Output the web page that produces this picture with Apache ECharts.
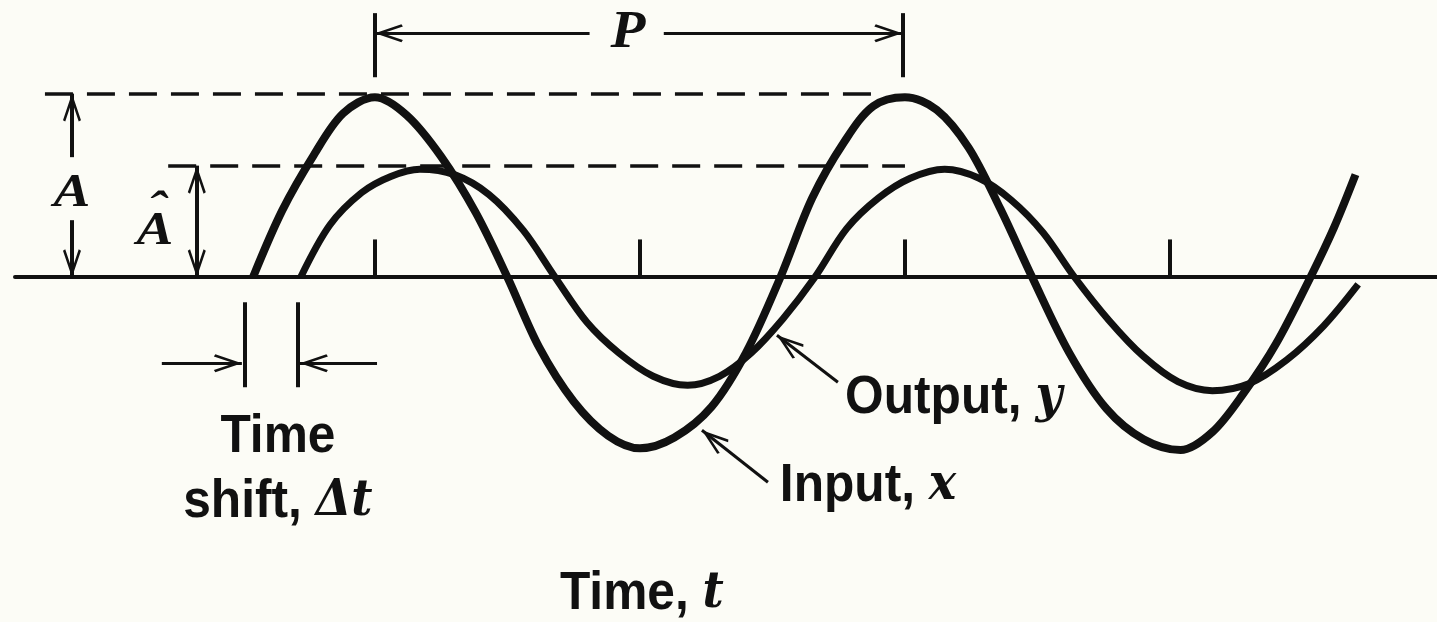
<!DOCTYPE html>
<html>
<head>
<meta charset="utf-8">
<title>Input and output sine waves</title>
<script src="https://cdn.jsdelivr.net/npm/echarts@6/dist/echarts.min.js"></script>
<style>
html, body { margin: 0; padding: 0; background: #fcfcf6; }
#chartLineBox { width: 1437px; height: 622px; }
</style>
</head>
<body>
<div id="chartLineBox"></div>
<script>
// values: time t (tick marks at 1..4), amplitude with A = 1
var inputTime = [0.54, 0.65, 0.77, 0.88, 1.0, 1.12, 1.25, 1.38, 1.5, 1.62, 1.75, 1.88, 2.0, 2.13, 2.27, 2.4, 2.53, 2.65, 2.77, 2.88, 3.0, 3.12, 3.24, 3.36, 3.48, 3.62, 3.76, 3.9, 4.04, 4.16, 4.28, 4.4, 4.53, 4.62, 4.7];
var inputValue = [0, 0.37, 0.68, 0.91, 1.0, 0.9, 0.67, 0.36, 0, -0.39, -0.69, -0.88, -0.95, -0.89, -0.72, -0.42, 0, 0.44, 0.75, 0.95, 1.0, 0.93, 0.72, 0.38, 0, -0.42, -0.73, -0.9, -0.96, -0.86, -0.64, -0.37, 0, 0.28, 0.57];
var outputTime = [0.72, 0.83, 0.95, 1.06, 1.17, 1.3, 1.43, 1.56, 1.68, 1.8, 1.92, 2.05, 2.18, 2.3, 2.42, 2.54, 2.66, 2.78, 2.9, 3.02, 3.15, 3.28, 3.4, 3.52, 3.64, 3.77, 3.9, 4.03, 4.16, 4.3, 4.44, 4.58, 4.71];
var outputValue = [0, 0.29, 0.47, 0.56, 0.6, 0.57, 0.46, 0.26, 0, -0.25, -0.42, -0.55, -0.6, -0.55, -0.42, -0.23, 0, 0.27, 0.44, 0.55, 0.6, 0.55, 0.43, 0.25, 0, -0.24, -0.44, -0.58, -0.63, -0.59, -0.46, -0.27, -0.04];
var tickTimes = [1, 2, 3, 4];
var peakLevels = [1.02, 0.62];   // A, A-hat
var periodEnds = [1.0, 2.99];    // P
var shiftEnds = [0.51, 0.71];    // time shift

var INK = "#111";
var sansFont = '"Liberation Sans", Arial, sans-serif';
var serifFont = '"Liberation Serif", "Times New Roman", serif';
var varFont = '"DejaVu Serif", "Liberation Serif", serif';
var CHEVRON = "path://M10,0L20,27L17.5,28.5L10,8L2.5,28.5L0,27Z";

function pairs(xs, ys) {
  var out = [];
  for (var i = 0; i < xs.length; i++) {
    out.push([xs[i], ys[i]]);
  }
  return out;
}

// plain segment
function bar(a, b, width) {
  return [
    { coord: a, symbol: "none" },
    { coord: b, symbol: "none", lineStyle: { width: width || 4 } },
  ];
}
// segment with an arrow head at b (and at a too if both)
function arrow(a, b, both, width) {
  var head = { symbol: CHEVRON, symbolSize: [18, 28], symbolOffset: [0, 14] };
  var start = both ? Object.assign({ coord: a }, head) : { coord: a, symbol: "none" };
  var end = Object.assign({ coord: b, lineStyle: { width: width || 3.5 } }, head);
  return [start, end];
}
function dashed(a, b) {
  return [
    { coord: a, symbol: "none" },
    { coord: b, symbol: "none", lineStyle: { width: 3.5, type: [28, 14] } },
  ];
}

var A = peakLevels[0];
var Ahat = peakLevels[1];
var marks = [];
marks.push(dashed([-0.245, A], [2.9, A]));
marks.push(dashed([0.22, Ahat], [3.0, Ahat]));
// A dimension (split round its label)
marks.push(arrow([-0.143, 0.667], [-0.143, A], false, 4));
marks.push(arrow([-0.143, 0.317], [-0.143, 0], false, 4));
// A-hat dimension
marks.push(arrow([0.328, 0], [0.328, Ahat], true, 4));
// period P
marks.push(bar([periodEnds[0], 1.111], [periodEnds[0], 1.467]));
marks.push(bar([periodEnds[1], 1.111], [periodEnds[1], 1.467]));
marks.push(arrow([1.81, 1.356], [periodEnds[0], 1.356], false, 3));
marks.push(arrow([2.09, 1.356], [periodEnds[1], 1.356], false, 3));
// time shift
marks.push(bar([shiftEnds[0], -0.139], [shiftEnds[0], -0.611]));
marks.push(bar([shiftEnds[1], -0.139], [shiftEnds[1], -0.611]));
marks.push(arrow([0.196, -0.478], [shiftEnds[0] - 0.012, -0.478], false, 3));
marks.push(arrow([1.008, -0.478], [shiftEnds[1] + 0.007, -0.478], false, 3));
// pointers to the curves
marks.push(arrow([2.747, -0.583], [2.517, -0.322], false, 3));
marks.push(arrow([2.483, -1.139], [2.234, -0.85], false, 3));
// ticks on the time axis
tickTimes.forEach(function (t) {
  marks.push(bar([t, 0], [t, 0.21], 4));
});

var option = {
  backgroundColor: "#fcfcf6",
  animation: false,
  grid: { left: 15, right: 0, top: 0, bottom: 0 },
  xAxis: {
    type: "value",
    min: -0.358,
    max: 5.0075,
    axisLine: { show: true, onZero: true, lineStyle: { color: INK, width: 4 } },
    axisTick: { show: false },
    axisLabel: { show: false },
    splitLine: { show: false },
  },
  yAxis: {
    type: "value",
    min: -1.915,
    max: 1.54,
    show: false,
    splitLine: { show: false },
  },
  series: [
    {
      name: "Input, x",
      type: "line",
      data: pairs(inputTime, inputValue),
      smooth: 0.33,
      showSymbol: false,
      silent: true,
      z: 3,
      lineStyle: { color: INK, width: 8 },
    },
    {
      name: "Output, y",
      type: "line",
      data: pairs(outputTime, outputValue),
      smooth: 0.33,
      showSymbol: false,
      silent: true,
      z: 3,
      lineStyle: { color: INK, width: 7 },
    },
    {
      name: "annotations",
      type: "line",
      data: [],
      markLine: {
        silent: true,
        animation: false,
        symbol: ["none", "none"],
        label: { show: false },
        emphasis: { disabled: true },
        lineStyle: { color: INK, type: "solid", width: 3.5 },
        data: marks,
      },
    },
  ],
};

var chart = echarts.init(document.getElementById("chartLineBox"));
chart.setOption(option);

// text labels, anchored in data units
function rich(size) {
  return {
    s: { fontFamily: sansFont, fontWeight: "bold", fontSize: size, fill: INK },
    v: { fontFamily: serifFont, fontStyle: "italic", fontWeight: "bold", fontSize: size, fill: INK },
    w: { fontFamily: varFont, fontStyle: "italic", fontWeight: "bold", fontSize: size - 4, fill: INK },
  };
}
var labels = [
  { at: [-0.143, 0.461], text: "{v|A}", size: 46, align: "center", sx: 1.2 },
  { at: [0.17, 0.25], text: "{v|A}", size: 46, align: "center", sx: 1.2 },
  { at: [0.178, 0.37], text: "{v|\u02c6}", size: 46, align: "center", sx: 1.2 },
  { at: [1.955, 1.356], text: "{v|P}", size: 52, align: "center", sx: 1.1 },
  { at: [0.634, -0.889], text: "{s|Time}", size: 54, align: "center", sx: 0.92 },
  { at: [0.634, -1.25], text: "{s|shift, }{w|\u0394t}", size: 54, align: "center", sx: 0.92 },
  { at: [2.774, -0.672], text: "{s|Output, }{w|y}", size: 54, align: "left", sx: 0.92 },
  { at: [2.528, -1.161], text: "{s|Input, }{w|x}", size: 54, align: "left", sx: 0.92 },
  { at: [1.698, -1.761], text: "{s|Time, }{w|t}", size: 54, align: "left", sx: 0.92 },
];
var graphics = labels.map(function (l) {
  var p = chart.convertToPixel({ gridIndex: 0 }, l.at);
  return {
    type: "text",
    x: p[0],
    y: p[1],
    scaleX: l.sx,
    silent: true,
    style: {
      text: l.text,
      rich: rich(l.size),
      fontSize: l.size,
      fill: INK,
      align: l.align,
      verticalAlign: "middle",
    },
  };
});
chart.setOption({ graphic: graphics });
</script>
</body>
</html>
